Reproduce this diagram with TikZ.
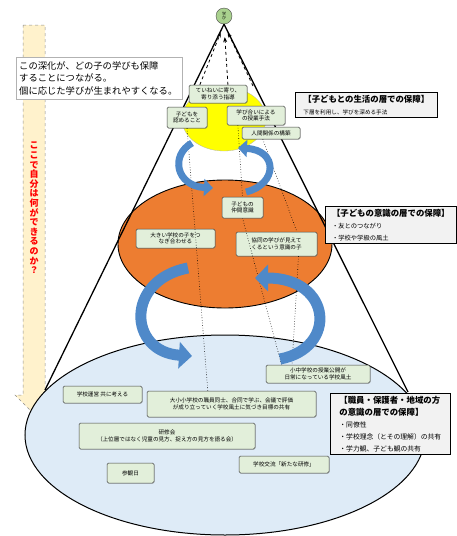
\documentclass[tikz,border=0pt]{standalone}
\usepackage{fontspec}
\setmainfont{Noto Sans CJK JP}
\usetikzlibrary{arrows.meta,shadows,calc}
\definecolor{ylw}{HTML}{FFFF00}
\definecolor{org}{HTML}{ED7D31}
\definecolor{lblue}{HTML}{DEEBF7}
\definecolor{gbox}{HTML}{E2EFDA}
\definecolor{barrow}{HTML}{4F89C9}
\definecolor{peach}{HTML}{FFF2CC}
\definecolor{apexg}{HTML}{A9D18E}
\newcommand{\fa}{\bfseries\fontsize{8.4}{9.5}\selectfont}
\newcommand{\fb}{\fontsize{6.3}{7.5}\selectfont}
\begin{document}
\begin{tikzpicture}[x=1pt,y=-1pt,
  gb/.style={draw=black!75, fill=gbox, rounded corners=1.5pt, line width=0.5pt, align=center, inner sep=1pt,
    font=\fontsize{5.6}{6.6}\selectfont, drop shadow={shadow xshift=0.7pt,shadow yshift=-0.7pt,opacity=0.35}},
  lab/.style={draw=black, fill=black!5, line width=0.6pt, align=left, anchor=north west, inner sep=2.5pt},
  bigarr/.style={draw=barrow, line width=11pt, -{Triangle[length=13pt,width=26pt]}},
  smallarr/.style={draw=barrow, line width=7pt, -{Triangle[length=9pt,width=17pt]}},
  dotl/.style={dotted, line width=0.6pt},
  dashl/.style={dashed, line width=0.8pt, -{Stealth[length=5pt,width=4pt]}}
]
\useasboundingbox (0,0) rectangle (456,536);

% left vertical arrow
\draw[dashed, draw=black!45, fill=peach, line width=0.5pt]
  (23,25) -- (45,25) -- (45,395) -- (55,395) -- (35,415) -- (15,395) -- (23,395) -- cycle;
\node[text=red, font=\bfseries\fontsize{9}{9.6}\selectfont, align=center] (vq) at (34,208)
  {こ\\こ\\で\\自\\分\\は\\何\\が\\で\\き\\る\\の\\か\\？};

% ellipses
\draw[fill=lblue, line width=1pt] (225,435) ellipse [x radius=200, y radius=100];
\draw[fill=org, line width=0.9pt] (225,244) ellipse [x radius=107, y radius=64];
\draw[fill=ylw, draw=black!30, line width=0.3pt] (224,119) ellipse [x radius=42, y radius=32];

% apex
\node[circle, draw=black!70, fill=apexg, minimum size=16pt, inner sep=0pt, align=center,
  font=\fontsize{4}{4.5}\selectfont] (apex) at (224,16) {学\\び};
\coordinate (cl) at (45,390);
\coordinate (cr) at (408,392);
\draw[line width=1.3pt] (apex.south) -- (cl);
\draw[line width=1.3pt] (apex.south) -- (cr);

% boxes (top layer)
\node[gb, minimum width=58pt, minimum height=18pt] (b1) at (218,94) {ていねいに寄り、\\寄り添う指導};
\node[gb, minimum width=40pt, minimum height=21pt] (b2) at (187,117.5) {子どもを\\認めること};
\node[gb, minimum width=58pt, minimum height=19pt] (b3) at (256,115.5) {学び合いによる\\の授業手法};
\node[gb, minimum width=58pt, minimum height=12pt] (b4) at (271,133) {人間関係の構築};
% orange layer
\node[gb, minimum width=79pt, minimum height=19pt] (c2) at (175.5,238.5) {大きい学校の子をつ\\なぎ合わせる};
\node[gb, minimum width=81pt, minimum height=24pt] (c3) at (276.5,244) {協同の学びが見えて\\くるという意識の子};
% blue layer
\node[gb, minimum width=79pt, minimum height=17pt] (d2) at (102.5,394.5) {学校運営 共に考える};
\node[gb, minimum width=169pt, minimum height=26pt] (d3) at (231.5,404) {大小小学校の職員同士、合同で学ぶ、会議で評価\\が成り立っていく学校風土に気づき目標の共有};
\node[gb, minimum width=176pt, minimum height=26pt] (d4) at (167,436) {研修会\\（上位層ではなく児童の見方、捉え方の見方を語る会）};
\node[gb, minimum width=90pt, minimum height=17pt] (d5) at (284,464.5) {学校交流「新たな研修」};
\node[gb, minimum width=47pt, minimum height=20pt] (d6) at (130.5,473) {参観日};

% dashed arrows in cone top
\coordinate (rd) at (253,86);
\draw[dashl, shorten >=9pt] ($(b1.north west)!0.19!(b1.north east)$) -- (apex.south);
\draw[dashl, shorten >=13pt] ($(b1.north west)!0.67!(b1.north east)$) -- (apex.south);
\draw[dashl, shorten >=9pt] (rd) -- (apex.south);

% dotted lines (endpoints on boxes drawn later)
\coordinate (c1n) at (242.5,197);
\coordinate (c1s) at (242.5,218);
\coordinate (d1a) at (281.6,365);
\coordinate (d1b) at (292,365);
\draw[dotl] (b2.south) -- ($(d3.north west)!0.36!(d3.north east)$);
\draw[dotl] ($(b3.south west)!0.19!(b3.south east)$) -- (c1n);
\draw[dotl] (c1s) -- (d1a);
\draw[dotl] ($(b4.south west)!0.36!(b4.south east)$) -- ($(c3.north west)!0.75!(c3.north east)$);
\draw[dotl] ($(c3.south west)!0.77!(c3.south east)$) -- (d1b);

% blue circular arrows
\coordinate (t1s) at (192,143); \coordinate (t1e) at (213,188);
\coordinate (t2s) at (246,192); \coordinate (t2e) at (238,148);
\draw[smallarr] (t1s) .. controls (170,155) and (176,186) .. (t1e);
\draw[smallarr] (t2s) .. controls (278,184) and (278,150) .. (t2e);
\coordinate (a1s) at (188,268); \coordinate (a1e) at (192,356);
\coordinate (a2s) at (280,359); \coordinate (a2e) at (255,278);
\draw[bigarr] (a1s) .. controls (125,280) and (128,352) .. (a1e);
\draw[bigarr] (a2s) .. controls (338,348) and (332,278) .. (a2e);

% boxes over arrows
\node[gb, minimum width=41pt, minimum height=21pt] (c1) at (242.5,207.5) {子どもの\\仲間意識};
\node[gb, minimum width=104pt, minimum height=18pt] (d1) at (318,374) {小中学校の授業公開が\\日常になっている学校風土};

% top text
\node[draw=black!30, fill=white, anchor=north west, minimum width=166pt, minimum height=42pt,
  text width=160pt, inner xsep=3pt, inner ysep=3pt, align=left, font=\fontsize{9.3}{12.3}\selectfont] (top) at (16,57)
  {この深化が、どの子の学びも保障\\することにつながる。\\個に応じた学びが生まれやすくなる。};

% label boxes
\node[lab, minimum width=142pt, minimum height=20pt] (l1) at (295,92)
  {\fa 【子どもとの生活の層での保障】\\\fontsize{5.6}{6.5}\selectfont 下層を利用し、学びを深める手法};
\node[lab, minimum width=131pt, minimum height=35pt] (l2) at (325,206)
  {\fa 【子どもの意識の層での保障】\\\fb ・友とのつながり\\\fb ・学校や学級の風土};
\node[lab, minimum width=120pt, minimum height=55pt] (l3) at (330,393)
  {\fa 【職員・保護者・地域の方\\\fa の意識の層での保障】\\\fontsize{6.8}{8}\selectfont ・同僚性\\\fontsize{6.8}{8}\selectfont ・学校理念（とその理解）の共有\\\fontsize{6.8}{8}\selectfont ・学力観、子ども観の共有};
\end{tikzpicture}
\end{document}
